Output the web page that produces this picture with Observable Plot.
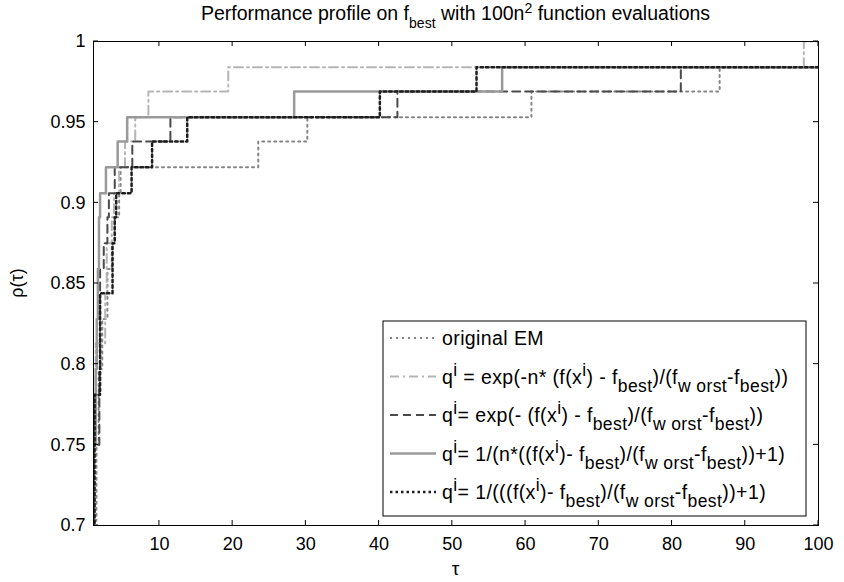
<!DOCTYPE html>
<html><head><meta charset="utf-8">
<script src="https://cdn.jsdelivr.net/npm/d3@7"></script>
<script src="https://cdn.jsdelivr.net/npm/@observablehq/plot@0.6"></script>
<style>html,body{margin:0;padding:0;background:#fff}#chart{width:844px;height:582px}</style>
</head><body><div id="chart"></div>
<script>
// ---- data ----
const xTicks = [10, 20, 30, 40, 50, 60, 70, 80, 90, 100];
const yTicks = [0.7, 0.75, 0.8, 0.85, 0.9, 0.95, 1];
const yTickLabels = ["0.7", "0.75", "0.8", "0.85", "0.9", "0.95", "1"];

const tauEM   = [1, 1.05, 1.4, 1.7, 2.2, 2.9, 3.5, 3.9, 4.5, 4.7, 23.5, 30.2, 60.8, 86.5, 100];
const rhoEM   = [0.6, 0.703, 0.75, 0.797, 0.828, 0.859, 0.875, 0.891, 0.906, 0.922, 0.938, 0.953, 0.969, 0.984, 0.984];

const tauExpN = [1, 1.02, 1.3, 2.6, 2.8, 3.5, 3.8, 4.5, 5.3, 6.7, 8.5, 19.4, 98, 100];
const rhoExpN = [0.6, 0.766, 0.813, 0.844, 0.875, 0.891, 0.906, 0.922, 0.938, 0.953, 0.969, 0.984, 1, 1];

const tauExp  = [1, 1.02, 1.8, 1.9, 2.4, 2.9, 3.1, 3.9, 6.3, 11.5, 42.5, 81.2, 100];
const rhoExp  = [0.6, 0.75, 0.797, 0.859, 0.875, 0.891, 0.906, 0.922, 0.938, 0.953, 0.969, 0.984, 0.984];

const tauInvN = [1, 1.02, 1.3, 1.45, 1.6, 1.75, 1.9, 2.7, 4.3, 5.6, 28.4, 56.8, 100];
const rhoInvN = [0.6, 0.75, 0.797, 0.828, 0.859, 0.891, 0.906, 0.922, 0.938, 0.953, 0.969, 0.984, 0.984];

const tauInv  = [1, 1.15, 1.9, 3.6, 3.9, 4.1, 6.2, 9.0, 13.8, 40.1, 53.3, 100];
const rhoInv  = [0.6, 0.781, 0.844, 0.875, 0.891, 0.906, 0.922, 0.938, 0.953, 0.969, 0.984, 0.984];

const legendLabels = [
  "original EM",
  "q^{i} = exp(-n* (f(x^{i}) - f_{best})/(f_{w orst}-f_{best}))",
  "q^{i}= exp(- (f(x^{i}) - f_{best})/(f_{w orst}-f_{best}))",
  "q^{i}= 1/(n*((f(x^{i})- f_{best})/(f_{w orst}-f_{best}))+1)",
  "q^{i}= 1/(((f(x^{i})- f_{best})/(f_{w orst}-f_{best}))+1)"
];
const titleText = "Performance profile on f_{best} with 100n^{2} function evaluations";

// ---- styles ----
const styles = [
  {stroke: "#858585", strokeWidth: 2, strokeDasharray: "2,4"},
  {stroke: "#b5b5b5", strokeWidth: 2, strokeDasharray: "9,4,2,4"},
  {stroke: "#4a4a4a", strokeWidth: 2, strokeDasharray: "8,5"},
  {stroke: "#9a9a9a", strokeWidth: 2.5, strokeDasharray: null},
  {stroke: "#1e1e1e", strokeWidth: 2.5, strokeDasharray: "2.5,3"}
];
const seriesData = [[tauEM, rhoEM], [tauExpN, rhoExpN], [tauExp, rhoExp], [tauInvN, rhoInvN], [tauInv, rhoInv]]
  .map(([t, r]) => t.map((v, i) => ({tau: v, rho: r[i]})));

const FONT = "'Liberation Sans', Arial, Helvetica, sans-serif";
const W = 844, H = 582;

const plot = Plot.plot({
  width: W, height: H,
  marginTop: 41, marginBottom: 57, marginLeft: 93, marginRight: 26,
  style: {fontFamily: FONT, background: "#fff", color: "#000", overflow: "visible"},
  x: {domain: [1, 100], label: null},
  y: {domain: [0.7, 1], label: null},
  marks: [
    ...seriesData.map((d, i) => Plot.line(d, {x: "tau", y: "rho", curve: "step-after", clip: true, ...styles[i]})),
    Plot.frame({stroke: "#000", strokeWidth: 1}),
    Plot.axisX({ticks: xTicks, tickSize: 0, tickPadding: 12, tickFormat: d => String(d), fontSize: 18, label: null}),
    Plot.axisY({ticks: yTicks, tickSize: 0, tickPadding: 8, tickFormat: d => yTickLabels[yTicks.indexOf(d)], fontSize: 18, label: null})
  ]
});
document.getElementById("chart").appendChild(plot);

const sx = plot.scale("x"), sy = plot.scale("y");
const svg = d3.select(plot);
const x0 = sx.apply(1), x1 = sx.apply(100), y0 = sy.apply(0.7), y1 = sy.apply(1);
const tk = 5;
const tg = svg.append("g").attr("stroke", "#000").attr("stroke-width", 1);
xTicks.forEach(v => {
  const x = sx.apply(v);
  tg.append("line").attr("x1", x).attr("x2", x).attr("y1", y0).attr("y2", y0 - tk);
  tg.append("line").attr("x1", x).attr("x2", x).attr("y1", y1).attr("y2", y1 + tk);
});
yTicks.forEach(v => {
  const y = sy.apply(v);
  tg.append("line").attr("x1", x0).attr("x2", x0 + tk).attr("y1", y).attr("y2", y);
  tg.append("line").attr("x1", x1).attr("x2", x1 - tk).attr("y1", y).attr("y2", y);
});

// rich text helper: ^{..} superscript, _{..} subscript
function richText(sel, str, size, scale, shiftUp, shiftDown) {
  const parts = [];
  const re = /([\^_])\{([^}]*)\}/g;
  let last = 0, m;
  while ((m = re.exec(str))) {
    if (m.index > last) parts.push([str.slice(last, m.index), 0]);
    parts.push([m[2], m[1] === "^" ? 1 : -1]);
    last = re.lastIndex;
  }
  if (last < str.length) parts.push([str.slice(last), 0]);
  let cur = 0;
  parts.forEach(([t, mode]) => {
    const target = mode === 1 ? -shiftUp * size : mode === -1 ? shiftDown * size : 0;
    sel.append("tspan").attr("dy", target - cur).attr("font-size", mode ? size * scale : size)
      .style("white-space", "pre").text(t);
    cur = target;
  });
}

// title
const title = svg.append("text").attr("x", (x0 + x1) / 2).attr("y", 20).attr("text-anchor", "middle")
  .attr("font-family", FONT).attr("fill", "#000").attr("xml:space", "preserve");
richText(title, titleText, 19.5, 0.72, 0.38, 0.42);

// axis labels
svg.append("text").attr("x", (x0 + x1) / 2).attr("y", 575).attr("text-anchor", "middle")
  .attr("font-family", FONT).attr("font-size", 19).text("τ");
svg.append("text").attr("transform", `translate(23,${(y0 + y1) / 2}) rotate(-90)`).attr("text-anchor", "middle")
  .attr("font-family", FONT).attr("font-size", 18).text("ρ(τ)");

// legend
const L = {x: 383, y: 321, w: 423, h: 195};
const lg = svg.append("g");
lg.append("rect").attr("x", L.x).attr("y", L.y).attr("width", L.w).attr("height", L.h)
  .attr("fill", "#fff").attr("stroke", "#000").attr("stroke-width", 1);
legendLabels.forEach((lab, i) => {
  const cy = L.y + 18 + i * 38.5;
  const s = styles[i];
  lg.append("line").attr("x1", L.x + 7).attr("x2", L.x + 53).attr("y1", cy - 1).attr("y2", cy - 1)
    .attr("stroke", s.stroke).attr("stroke-width", s.strokeWidth).attr("stroke-dasharray", s.strokeDasharray);
  const t = lg.append("text").attr("x", L.x + 59).attr("y", cy + 6).attr("text-anchor", "start")
    .attr("font-family", FONT).attr("fill", "#000").attr("letter-spacing", "0.4px").attr("xml:space", "preserve");
  richText(t, lab, 19.5, 0.9, 0.4, 0.42);
});
</script>
</body></html>
